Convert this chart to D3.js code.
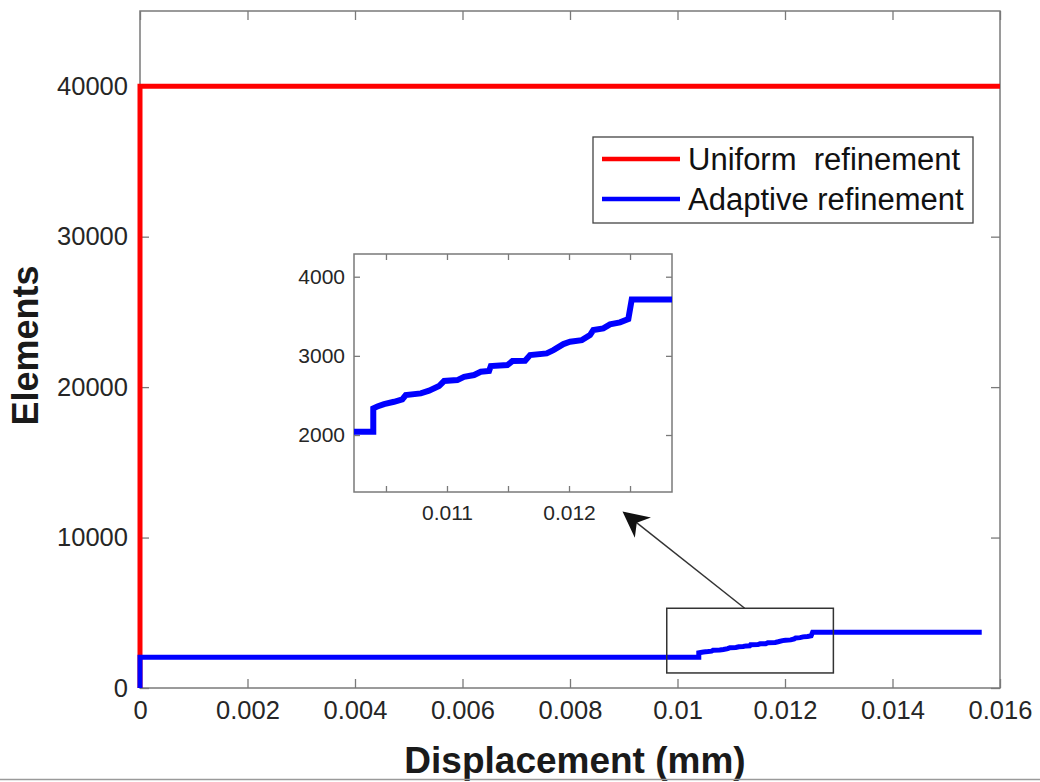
<!DOCTYPE html>
<html>
<head>
<meta charset="utf-8">
<script src="https://cdn.jsdelivr.net/npm/d3@7"></script>
<style>
  html, body { margin: 0; padding: 0; background: #fff; }
  svg { display: block; }
  text { font-family: "Liberation Sans", Arial, Helvetica, sans-serif; }
</style>
</head>
<body>
<svg id="chart" width="1040" height="782"></svg>
<script>
// ---------- data ----------
const seriesNames = ["Uniform  refinement", "Adaptive refinement"];
const seriesColors = ["#ff0000", "#0000ff"];

const uniformX = [0, 0, 0.016];
const uniformY = [0, 40000, 40000];

const adaptiveX = [0, 0, 0.010396, 0.010396, 0.010429, 0.010484, 0.010566, 0.010634, 0.010662,
  0.010785, 0.010853, 0.010935, 0.010976, 0.011085, 0.011140, 0.011222, 0.011277, 0.011345,
  0.011359, 0.011495, 0.011536, 0.011640, 0.011681, 0.011817, 0.011872, 0.011954, 0.012009,
  0.012105, 0.012172, 0.012199, 0.012281, 0.012336, 0.012418, 0.012486, 0.012514, 0.01566];
const adaptiveY = [0, 2040, 2040, 2337, 2360, 2391, 2420, 2450, 2505,
  2526, 2560, 2619, 2682, 2694, 2736, 2758, 2799, 2810,
  2871, 2884, 2934, 2938, 3010, 3031, 3073, 3149, 3178,
  3199, 3263, 3326, 3347, 3398, 3423, 3465, 3713, 3713];

const xTicks = [0, 0.002, 0.004, 0.006, 0.008, 0.01, 0.012, 0.014, 0.016];
const xTickLabels = ["0", "0.002", "0.004", "0.006", "0.008", "0.01", "0.012", "0.014", "0.016"];
const yTicks = [0, 10000, 20000, 30000, 40000];
const yTickLabels = ["0", "10000", "20000", "30000", "40000"];

const insetXTicks = [0.0105, 0.011, 0.0115, 0.012, 0.0125];
const insetXTickLabels = ["", "0.011", "", "0.012", ""];
const insetYTicks = [2000, 3000, 4000];
const insetYTickLabels = ["2000", "3000", "4000"];

const xLabel = "Displacement (mm)";
const yLabel = "Elements";

// zoom rectangle [x0, x1, y0, y1] and arrow [tailX, tailY, tipX, tipY] in main data units
const zoomRect = [0.0098, 0.0129, 1000, 5300];
const arrowPts = [0.01125, 5300, 0.009015, 11628];

// ---------- layout ----------
const svg = d3.select("#chart");
const axisColor = "#7a7a7a";
const textColor = "#262626";

const M = { left: 140, right: 1000, top: 11, bottom: 688 };
const x = d3.scaleLinear().domain([0, 0.016]).range([M.left, M.right]);
const y = d3.scaleLinear().domain([0, 45000]).range([M.bottom, M.top]);

const I = { left: 354, right: 672, top: 254, bottom: 492 };
const xi = d3.scaleLinear().domain([0.010238, 0.012844]).range([I.left, I.right]);
const yi = d3.scaleLinear().domain([1280, 4287]).range([I.bottom, I.top]);

const defs = svg.append("defs");
defs.append("clipPath").attr("id", "insetClip")
  .append("rect").attr("x", I.left).attr("y", I.top)
  .attr("width", I.right - I.left).attr("height", I.bottom - I.top);
defs.append("marker").attr("id", "arrowHead")
  .attr("viewBox", "0 0 10 10").attr("refX", 9).attr("refY", 5)
  .attr("markerWidth", 26).attr("markerHeight", 26)
  .attr("markerUnits", "userSpaceOnUse").attr("orient", "auto")
  .append("path").attr("d", "M0,0 L10,5 L0,10 L3,5 Z").attr("fill", "#111");

// main axes box background
svg.append("rect").attr("x", M.left).attr("y", M.top)
  .attr("width", M.right - M.left).attr("height", M.bottom - M.top)
  .attr("fill", "#fff");

// axes with inward ticks (mirrored)
function drawAxes(g, xs, ys, xt, xtl, yt, ytl, tickLen, fontSize, box, xLabelOffset, yLabelOffset) {
  const bottom = d3.axisBottom(xs).tickValues(xt).tickSize(-tickLen).tickPadding(xLabelOffset)
    .tickFormat((d, i) => xtl[i]);
  const top = d3.axisTop(xs).tickValues(xt).tickSize(-tickLen).tickFormat("");
  const left = d3.axisLeft(ys).tickValues(yt).tickSize(-tickLen).tickPadding(yLabelOffset)
    .tickFormat((d, i) => ytl[i]);
  const right = d3.axisRight(ys).tickValues(yt).tickSize(-tickLen).tickFormat("");
  const gb = g.append("g").attr("transform", `translate(0,${box.bottom})`).call(bottom);
  const gt = g.append("g").attr("transform", `translate(0,${box.top})`).call(top);
  const gl = g.append("g").attr("transform", `translate(${box.left},0)`).call(left);
  const gr = g.append("g").attr("transform", `translate(${box.right},0)`).call(right);
  [gb, gt, gl, gr].forEach(a => {
    a.select(".domain").remove();
    a.selectAll(".tick line").attr("stroke", axisColor).attr("stroke-width", 1.3);
    a.selectAll("text").attr("fill", textColor).style("font-size", fontSize + "px");
  });
  g.append("rect").attr("x", box.left).attr("y", box.top)
    .attr("width", box.right - box.left).attr("height", box.bottom - box.top)
    .attr("fill", "none").attr("stroke", axisColor).attr("stroke-width", 1.5);
}

const gMain = svg.append("g");
drawAxes(gMain, x, y, xTicks, xTickLabels, yTicks, yTickLabels, 9, 25.5, M, 13, 12);

// main lines
const lineMain = d3.line().x(d => x(d[0])).y(d => y(d[1]));
svg.append("path").datum(uniformX.map((v, i) => [v, uniformY[i]]))
  .attr("d", lineMain).attr("fill", "none").attr("stroke", seriesColors[0])
  .attr("stroke-width", 5).attr("stroke-linejoin", "miter");
svg.append("path").datum(adaptiveX.map((v, i) => [v, adaptiveY[i]]))
  .attr("d", lineMain).attr("fill", "none").attr("stroke", seriesColors[1])
  .attr("stroke-width", 5).attr("stroke-linejoin", "miter");

// zoom rectangle
svg.append("rect")
  .attr("x", x(zoomRect[0])).attr("y", y(zoomRect[3]))
  .attr("width", x(zoomRect[1]) - x(zoomRect[0]))
  .attr("height", y(zoomRect[2]) - y(zoomRect[3]))
  .attr("fill", "none").attr("stroke", "#333").attr("stroke-width", 1.5);

// arrow
svg.append("line")
  .attr("x1", x(arrowPts[0])).attr("y1", y(arrowPts[1]))
  .attr("x2", x(arrowPts[2])).attr("y2", y(arrowPts[3]))
  .attr("stroke", "#333").attr("stroke-width", 1.5)
  .attr("marker-end", "url(#arrowHead)");

// inset
svg.append("rect").attr("x", I.left).attr("y", I.top)
  .attr("width", I.right - I.left).attr("height", I.bottom - I.top).attr("fill", "#fff");
const gInset = svg.append("g");
drawAxes(gInset, xi, yi, insetXTicks, insetXTickLabels, insetYTicks, insetYTickLabels, 6, 21, I, 13, 9);
const lineInset = d3.line().x(d => xi(d[0])).y(d => yi(d[1]));
svg.append("path").datum(adaptiveX.map((v, i) => [v, adaptiveY[i]]))
  .attr("clip-path", "url(#insetClip)")
  .attr("d", lineInset).attr("fill", "none").attr("stroke", seriesColors[1])
  .attr("stroke-width", 6).attr("stroke-linejoin", "miter");

// legend
const L = { x: 593, y: 137, w: 380, h: 86 };
const gLeg = svg.append("g");
gLeg.append("rect").attr("x", L.x).attr("y", L.y).attr("width", L.w).attr("height", L.h)
  .attr("fill", "#fff").attr("stroke", "#444").attr("stroke-width", 1.3);
seriesNames.forEach((name, i) => {
  const cy = L.y + 22 + i * 40;
  gLeg.append("line").attr("x1", L.x + 9).attr("x2", L.x + 87)
    .attr("y1", cy).attr("y2", cy)
    .attr("stroke", seriesColors[i]).attr("stroke-width", 4.5);
  gLeg.append("text").attr("x", L.x + 95).attr("y", cy + 11)
    .attr("fill", "#111").style("font-size", "31px").style("white-space", "pre")
    .attr("xml:space", "preserve").text(name);
});

// axis labels
svg.append("text").attr("x", (M.left + M.right) / 2 + 5).attr("y", 773)
  .attr("text-anchor", "middle").attr("fill", "#1a1a1a")
  .style("font-size", "37px").style("font-weight", "bold").text(xLabel);
svg.append("text").attr("transform", `translate(38,${(M.top + M.bottom) / 2 - 4}) rotate(-90)`)
  .attr("text-anchor", "middle").attr("fill", "#1a1a1a")
  .style("font-size", "36px").style("font-weight", "bold").text(yLabel);

// bottom frame line
svg.append("line").attr("x1", 0).attr("x2", 1040).attr("y1", 779.5).attr("y2", 779.5)
  .attr("stroke", "#9a9a9a").attr("stroke-width", 1.5);
</script>
</body>
</html>
